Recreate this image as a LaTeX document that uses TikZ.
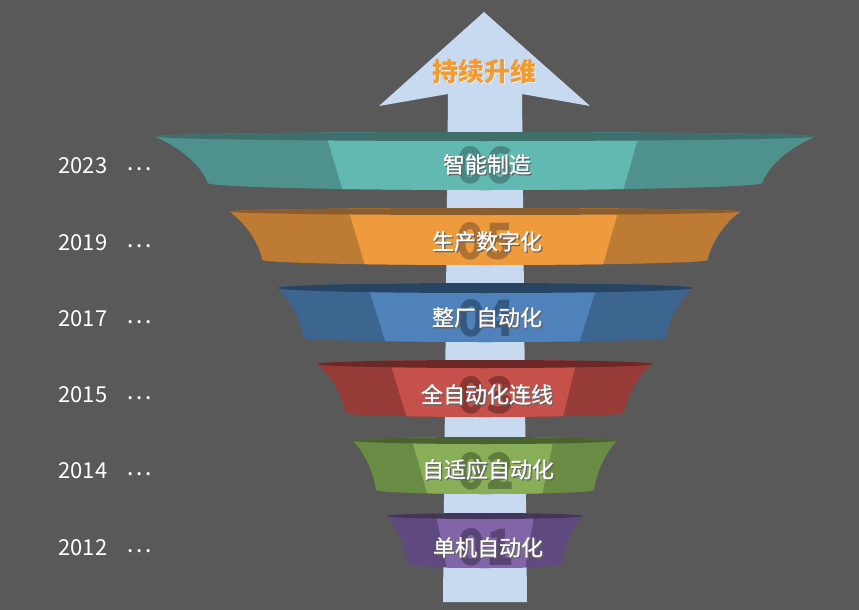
\documentclass[tikz,border=0pt]{standalone}
\usepackage{fontspec}
\setmainfont{Noto Sans CJK SC}
\newfontfamily\stagefont[FakeBold=0.6]{Noto Sans CJK SC}

\definecolor{bgdark}{HTML}{595959}
\definecolor{arrowblue}{HTML}{C8DAF0}
\definecolor{upgradeorange}{HTML}{F39B30}
\definecolor{tealmid}{HTML}{62B9B2}
\definecolor{tealside}{HTML}{4E918D}
\definecolor{tealrim}{HTML}{3E6F6B}
\definecolor{orangemid}{HTML}{EE9B3D}
\definecolor{orangeside}{HTML}{BE7B34}
\definecolor{orangerim}{HTML}{8A5C2E}
\definecolor{bluemid}{HTML}{4F81BA}
\definecolor{blueside}{HTML}{3C6590}
\definecolor{bluerim}{HTML}{284463}
\definecolor{redmid}{HTML}{C6514B}
\definecolor{redside}{HTML}{963B37}
\definecolor{redrim}{HTML}{6B2826}
\definecolor{greenmid}{HTML}{88AF58}
\definecolor{greenside}{HTML}{6A8B44}
\definecolor{greenrim}{HTML}{4A622F}
\definecolor{purplemid}{HTML}{8165A8}
\definecolor{purpleside}{HTML}{5E4A7E}
\definecolor{purplerim}{HTML}{43345A}

\newcommand\txtshadow[2][black!60]{\makebox[0pt][l]{\hspace{1.3pt}\raisebox{-1.3pt}{\textcolor{#1}{#2}}}#2}
\newcommand\yeardots{\hspace{19pt}\raisebox{3.5pt}{\fontsize{24}{24}\selectfont ⋯}}

\tikzset{
  stage label/.style={text=white, font=\stagefont\fontsize{22}{26}\selectfont},
  stage number/.style={font=\fontsize{50}{50}\selectfont\bfseries, opacity=0.65, xscale=0.92},
  year label/.style={anchor=west, text=white, font=\fontsize{22}{26}\selectfont},
}

\begin{document}
\begin{tikzpicture}[x=1pt,y=-1pt]

\fill[bgdark] (0,0) rectangle (859,610);
\useasboundingbox (0,0) rectangle (859,610);

\fill[arrowblue] (484,12) -- (590,106) -- (522,94) -- (527,602) -- (443,602) -- (448,94) -- (379,106) -- cycle;
\node[font=\fontsize{26}{30}\selectfont\bfseries, text=upgradeorange] (upgrade) at (484,72) {\txtshadow[white!70!arrowblue]{持续升维}};

\begin{scope}
\clip (155,136.5) arc[start angle=180,end angle=360,x radius=330,y radius=4.5]
  .. controls +(-26,12) and +(8,-19) .. (762,183)
  arc[start angle=0,end angle=180,x radius=277,y radius=7]
  .. controls +(-8,-19) and +(26,12) .. (155,136.5) -- cycle;
\fill[tealside] (100,100) rectangle (860,220);
\fill[tealmid] (324,128) -- (641,128) -- (621,198) -- (345,198) -- cycle;
\end{scope}
\fill[tealrim] (485,136.5) ellipse[x radius=330,y radius=4.5];
\node[stage number, text=tealrim] (n06) at (485,165) {06};
\node[stage label] (s06) at (487,165) {\txtshadow{智能制造}};
\node[year label] (y2023) at (55,166) {2023\yeardots};

\begin{scope}
\clip (229.5,211.5) arc[start angle=180,end angle=360,x radius=255.5,y radius=3.5]
  .. controls +(-16,12) and +(5,-20) .. (707.5,260)
  arc[start angle=0,end angle=180,x radius=222.5,y radius=5]
  .. controls +(-5,-20) and +(16,12) .. (229.5,211.5) -- cycle;
\fill[orangeside] (200,200) rectangle (780,280);
\fill[orangemid] (347,205) -- (620,205) -- (601,272) -- (367,272) -- cycle;
\end{scope}
\fill[orangerim] (485,211.5) ellipse[x radius=255.5,y radius=3.5];
\node[stage number, text=orangerim] (n05) at (485,241) {05};
\node[stage label] (s05) at (487,242) {\txtshadow{生产数字化}};
\node[year label] (y2019) at (55,243) {2019\yeardots};

\begin{scope}
\clip (277.5,288) arc[start angle=180,end angle=360,x radius=207.5,y radius=5]
  .. controls +(-13,12) and +(4,-20) .. (666,338)
  arc[start angle=0,end angle=180,x radius=181,y radius=4]
  .. controls +(-4,-20) and +(13,12) .. (277.5,288) -- cycle;
\fill[blueside] (250,270) rectangle (720,360);
\fill[bluemid] (366,280) -- (599,280) -- (577,350) -- (388,350) -- cycle;
\end{scope}
\fill[bluerim] (485,288) ellipse[x radius=207.5,y radius=5];
\node[stage number, text=bluerim] (n04) at (486,318) {04};
\node[stage label] (s04) at (487,318) {\txtshadow{整厂自动化}};
\node[year label] (y2017) at (55,319) {2017\yeardots};

\begin{scope}
\clip (317.5,364) arc[start angle=180,end angle=360,x radius=167.5,y radius=4]
  .. controls +(-14,12) and +(4,-20) .. (624,413)
  arc[start angle=0,end angle=180,x radius=139,y radius=4]
  .. controls +(-4,-20) and +(14,12) .. (317.5,364) -- cycle;
\fill[redside] (290,350) rectangle (680,430);
\fill[redmid] (388,356) -- (578,356) -- (561,425) -- (409,425) -- cycle;
\end{scope}
\fill[redrim] (485,364) ellipse[x radius=167.5,y radius=4];
\node[stage number, text=redrim] (n03) at (486,395) {03};
\node[stage label] (s03) at (487,395) {\txtshadow{全自动化连线}};
\node[year label] (y2015) at (55,395) {2015\yeardots};

\begin{scope}
\clip (353,440.5) arc[start angle=180,end angle=360,x radius=132,y radius=3.5]
  .. controls +(-11,12) and +(3,-20) .. (594,490)
  arc[start angle=0,end angle=180,x radius=109,y radius=4]
  .. controls +(-3,-20) and +(11,12) .. (353,440.5) -- cycle;
\fill[greenside] (330,425) rectangle (640,505);
\fill[greenmid] (410,433) -- (555,433) -- (541,500) -- (429,500) -- cycle;
\end{scope}
\fill[greenrim] (485,440.5) ellipse[x radius=132,y radius=3.5];
\node[stage number, text=greenrim] (n02) at (486,471) {02};
\node[stage label] (s02) at (488,470) {\txtshadow{自适应自动化}};
\node[year label] (y2014) at (55,471) {2014\yeardots};

\begin{scope}
\clip (387,516) arc[start angle=180,end angle=360,x radius=98,y radius=3]
  .. controls +(-10,12) and +(3,-20) .. (562,564)
  arc[start angle=0,end angle=180,x radius=77,y radius=4]
  .. controls +(-3,-20) and +(10,12) .. (387,516) -- cycle;
\fill[purpleside] (370,500) rectangle (600,580);
\fill[purplemid] (435,510) -- (535,510) -- (524,575) -- (448,575) -- cycle;
\end{scope}
\fill[purplerim] (485,516) ellipse[x radius=98,y radius=3];
\node[stage number, text=purplerim] (n01) at (486,547) {01};
\node[stage label] (s01) at (488,548) {\txtshadow{单机自动化}};
\node[year label] (y2012) at (55,548) {2012\yeardots};

\end{tikzpicture}
\end{document}
